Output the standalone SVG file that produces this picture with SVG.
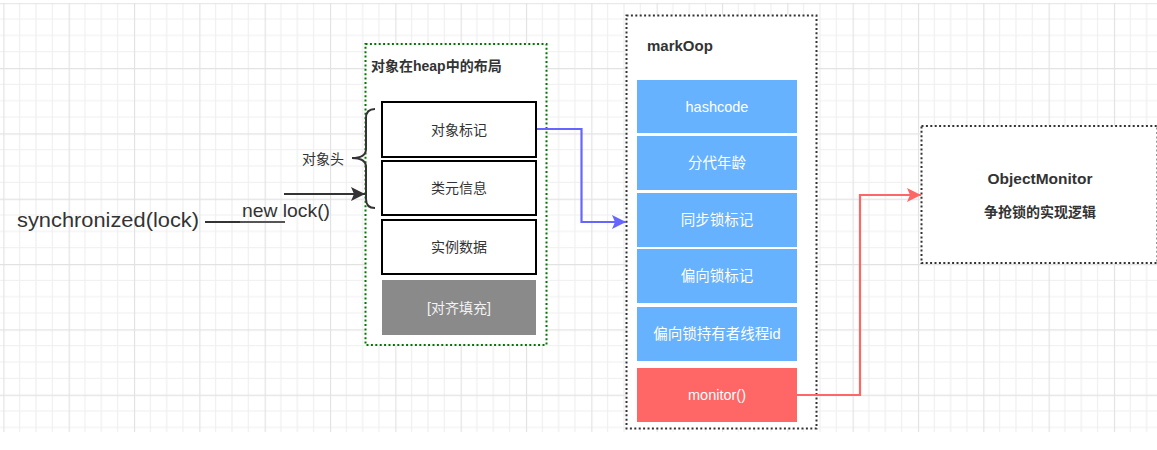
<svg xmlns="http://www.w3.org/2000/svg" width="1157" height="450" viewBox="0 0 1157 450">
<defs>
<pattern id="grid" patternUnits="userSpaceOnUse" x="3.33" y="2.7" width="65.33" height="65.33">
<path d="M16.33,0V65.33M32.67,0V65.33M49,0V65.33M0,16.33H65.33M0,32.67H65.33M0,49H65.33" stroke="#efefef" stroke-width="1.2" fill="none"/>
<path d="M0.5,0V65.33M0,0.5H65.33" stroke="#e2e2e2" stroke-width="1.3" fill="none"/>
</pattern>
<marker id="arrDark" markerUnits="userSpaceOnUse" markerWidth="15" markerHeight="14" refX="14" refY="7" orient="auto"><path d="M0,0 L14,7 L0,14 L3,7 z" fill="#333333"/></marker>
<marker id="arrBlue" markerUnits="userSpaceOnUse" markerWidth="15" markerHeight="14" refX="14" refY="7" orient="auto"><path d="M0,0 L14,7 L0,14 L3,7 z" fill="#6666ff"/></marker>
<marker id="arrRed" markerUnits="userSpaceOnUse" markerWidth="15" markerHeight="14" refX="14" refY="7" orient="auto"><path d="M0,0 L14,7 L0,14 L3,7 z" fill="#ff6666"/></marker>
</defs>
<style>
text{font-family:"Liberation Sans","Noto Sans CJK SC",sans-serif;}
.lbl{font-size:14px;fill:#333333;text-anchor:middle;dominant-baseline:central;}
.wlbl{font-size:14.5px;fill:#ffffff;text-anchor:middle;dominant-baseline:central;}
.bold{font-weight:bold;}
.wbox{fill:#ffffff;stroke:#000000;stroke-width:2;}
.blue{fill:#66b2ff;stroke:none;}
.red{fill:#ff6666;stroke:none;}
.gray{fill:#8a8a8a;stroke:none;}
.dotG{fill:#ffffff;stroke:#007700;stroke-width:2;stroke-dasharray:2 2.4;}
.dotK{fill:#ffffff;stroke:#333333;stroke-width:2;stroke-dasharray:2 2.4;}
.conn{fill:none;stroke-width:2.2;}
</style>
<rect x="0" y="0" width="1157" height="450" fill="#ffffff"/>
<rect x="0" y="3" width="1157" height="429" fill="url(#grid)"/>

<g id="sync-label">
<text x="17" y="227" font-size="21" fill="#333333" textLength="182" lengthAdjust="spacingAndGlyphs">synchronized(lock)</text>
</g>

<g id="heap-layout">
<rect class="dotG" x="365.5" y="44" width="181" height="301"/>
<text x="371" y="71" font-size="14" font-weight="bold" fill="#333333">对象在heap中的布局</text>
</g>
<g id="mark-word"><rect class="wbox" x="382" y="102" width="154" height="55"/><text class="lbl" x="459" y="129.5">对象标记</text></g>
<g id="klass"><rect class="wbox" x="382" y="161" width="154" height="54"/><text class="lbl" x="459" y="188">类元信息</text></g>
<g id="instance-data"><rect class="wbox" x="382" y="220" width="154" height="54"/><text class="lbl" x="459" y="247">实例数据</text></g>
<g id="padding"><rect class="gray" x="382" y="280" width="154" height="55"/><text class="wlbl" x="459" y="307.5" style="fill:#f2f2f2;font-size:14px">[对齐填充]</text></g>

<g id="header-brace">
<path d="M375,109 Q366,109 366,118 L366,149 Q366,158 352,158 Q366,158 366,167 L366,199 Q366,208 375,208" fill="none" stroke="#333333" stroke-width="2"/>
<text x="302" y="164" font-size="14" fill="#333333">对象头</text>
</g>

<g id="markoop">
<rect class="dotK" x="626.5" y="15.5" width="190" height="413"/>
<text x="647" y="51" font-size="15" font-weight="bold" fill="#333333">markOop</text>
</g>
<g id="hashcode"><rect class="blue" x="637" y="80" width="160" height="53"/><text class="wlbl" x="717" y="106.5">hashcode</text></g>
<g id="age"><rect class="blue" x="637" y="136" width="160" height="54"/><text class="wlbl" x="717" y="163">分代年龄</text></g>
<g id="sync-flag"><rect class="blue" x="637" y="193" width="160" height="54"/><text class="wlbl" x="717" y="220">同步锁标记</text></g>
<g id="biased-flag"><rect class="blue" x="637" y="249" width="160" height="54"/><text class="wlbl" x="717" y="276">偏向锁标记</text></g>
<g id="biased-owner"><rect class="blue" x="637" y="307" width="160" height="54"/><text class="wlbl" x="717" y="334">偏向锁持有者线程id</text></g>
<g id="monitor"><rect class="red" x="637" y="368" width="160" height="54"/><text class="wlbl" x="717" y="395">monitor()</text></g>

<g id="object-monitor">
<rect class="dotK" x="921.5" y="126" width="236" height="137"/>
<text class="lbl bold" x="1040" y="178" style="font-size:15.5px">ObjectMonitor</text>
<text class="lbl bold" x="1040" y="212">争抢锁的实现逻辑</text>
</g>

<g id="connectors">
<path class="conn" d="M205,222 H240" stroke="#333333"/>
<path class="conn" d="M240,222 H285" stroke="#555555" stroke-width="1"/>
<path class="conn" d="M284,194 H365" stroke="#333333" marker-end="url(#arrDark)"/>
<path class="conn" d="M537,129 H581.5 V222 H626" stroke="#6666ff" marker-end="url(#arrBlue)"/>
<path class="conn" d="M797,395 H860 V195 H921" stroke="#ff6666" marker-end="url(#arrRed)"/>
<text x="242" y="217" font-size="19" fill="#333333" textLength="88" lengthAdjust="spacingAndGlyphs">new lock()</text>
</g>
</svg>
